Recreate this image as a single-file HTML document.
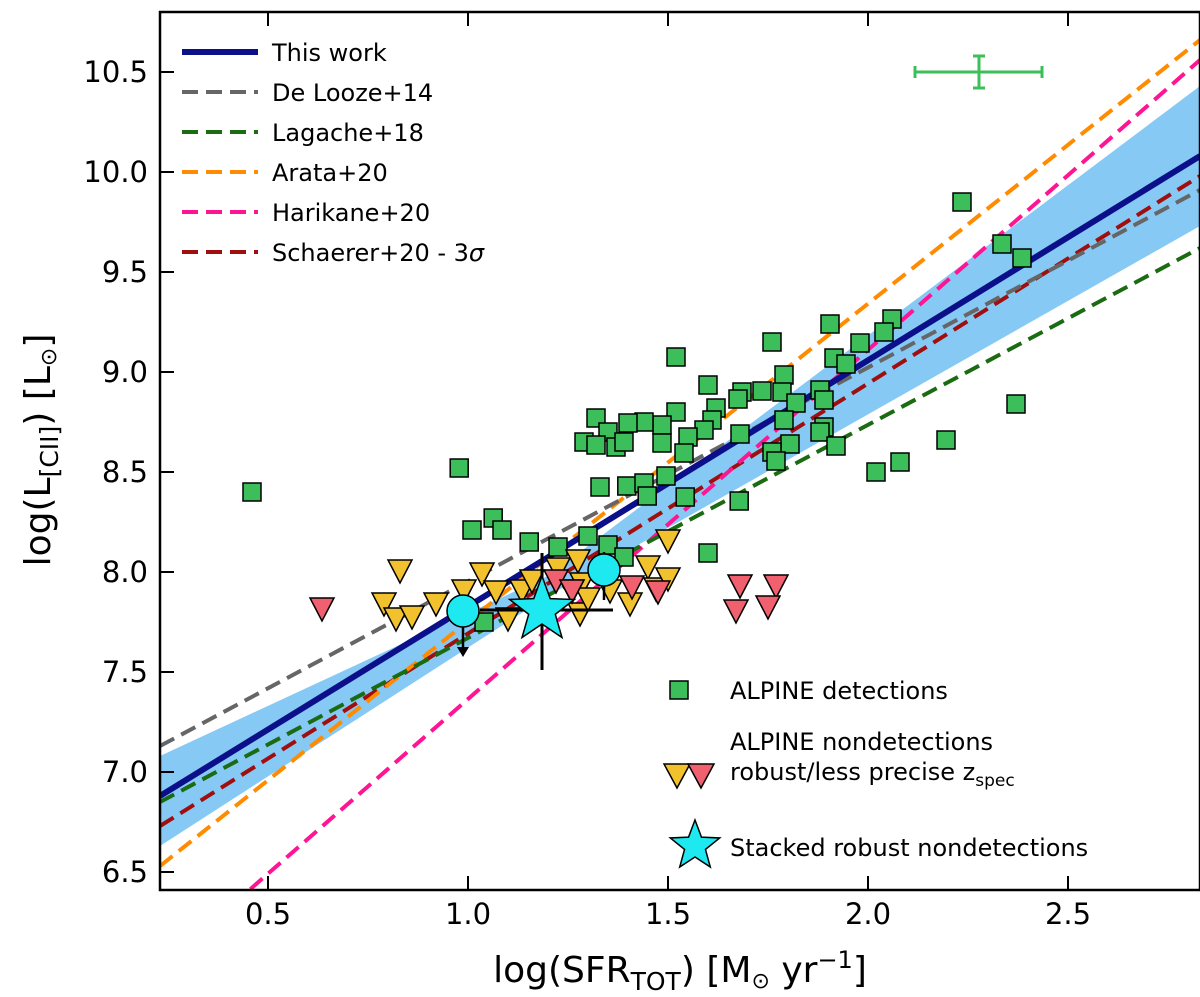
<!DOCTYPE html>
<html><head><meta charset="utf-8"><style>
body{margin:0;background:#fff}
svg{font-family:"DejaVu Sans","Liberation Sans",sans-serif}
</style></head><body>
<svg id="chart" width="1200" height="992" viewBox="0 0 1200 992">
<defs><clipPath id="clip"><rect x="160" y="12" width="1040" height="878"/></clipPath></defs>
<g id="plot" clip-path="url(#clip)"></g>
<g id="axes"></g>
</svg>
<script>
const detX=[0.46,0.978,1.01,1.063,1.085,1.153,1.225,1.30,1.33,1.397,1.44,1.448,1.495,1.543,1.678,1.60,1.52,1.76,1.905,2.06,2.04,1.98,1.915,1.945,1.60,1.79,1.735,1.685,1.675,1.785,1.82,1.88,1.89,1.62,1.61,1.59,1.55,1.54,1.52,1.485,1.485,1.44,1.40,1.32,1.35,1.29,1.32,1.37,1.39,1.68,1.79,1.89,1.88,1.92,1.805,1.76,1.77,2.02,2.08,2.235,2.335,2.385,2.37,2.195,1.35,1.39,1.04];
const detY=[8.4,8.52,8.21,8.27,8.21,8.15,8.125,8.18,8.425,8.43,8.445,8.38,8.48,8.375,8.355,8.095,9.075,9.15,9.24,9.265,9.2,9.145,9.07,9.04,8.935,8.985,8.905,8.9,8.865,8.9,8.845,8.91,8.86,8.82,8.76,8.71,8.675,8.595,8.80,8.735,8.645,8.75,8.745,8.77,8.70,8.65,8.635,8.625,8.65,8.69,8.76,8.725,8.70,8.63,8.64,8.60,8.555,8.5,8.55,9.85,9.64,9.57,8.84,8.66,8.135,8.075,7.75];
const ndX=[0.83,0.79,0.82,0.86,0.92,1.035,0.99,1.07,1.10,1.135,1.16,1.225,1.275,1.285,1.28,1.30,1.405,1.45,1.47,1.50,1.50,1.355,1.26];
const ndY=[8.0,7.835,7.76,7.77,7.835,7.985,7.9,7.895,7.76,7.9,7.95,8.01,8.05,7.935,7.785,7.86,7.835,8.02,7.91,7.96,8.15,7.9,7.9];
const lpX=[0.635,1.22,1.26,1.41,1.475,1.68,1.77,1.67,1.75];
const lpY=[7.81,7.95,7.9,7.92,7.895,7.925,7.925,7.8,7.82];
const stX=[1.185],stY=[7.81];
const circX=[0.9875,1.34],circY=[7.805,8.01];
const lineNames=["This work","De Looze+14","Lagache+18","Arata+20","Harikane+20","Schaerer+20 - 3σ"];
const lineColors=["#0b0f8a","#666","#1a6b12","#ff8c00","#ff1493","#a00e0e"];
const lineY0=[6.88,7.13,6.85,6.53,6.02,6.73]; // at x=0.23
const lineY1=[10.08,9.91,9.62,10.66,10.56,9.98]; // at x=2.83
const xTicks=[0.5,1.0,1.5,2.0,2.5],yTicks=[6.5,7.0,7.5,8.0,8.5,9.0,9.5,10.0,10.5];
const X=v=>68+v*400, Y=v=>72+(10.5-v)*200;
const NS="http://www.w3.org/2000/svg";
function mk(p,t,a){const e=document.createElementNS(NS,t);for(const k in a)e.setAttribute(k,a[k]);p.appendChild(e);return e;}
const plot=document.getElementById('plot'),axes=document.getElementById('axes');
const x0=0.23,x1=2.83;
let band=mk(plot,'polygon',{points:`${X(x0)},${Y(lineY0[0]+0.2)} ${X(1.2)},${Y(7.98)} ${X(x1)},${Y(lineY1[0]+0.35)} ${X(x1)},${Y(lineY1[0]-0.35)} ${X(1.2)},${Y(7.88)} ${X(x0)},${Y(lineY0[0]-0.25)}`,fill:'#86c9f5'});


for(let i=5;i>=0;i--){
 const l=mk(plot,'line',{x1:X(x0),y1:Y(lineY0[i]),x2:X(x1),y2:Y(lineY1[i]),stroke:lineColors[i],'stroke-width':i==0?6:4,'stroke-dasharray':i==0?'none':'16 8'});
 
 
}
function sq(x,y,g){return mk(g,'rect',{x:X(x)-9,y:Y(y)-9,width:18,height:18,fill:'#3cbf5a',stroke:'#000','stroke-width':1.5});}
function tri(x,y,c,g){const px=X(x),py=Y(y);return mk(g,'polygon',{points:`${px-12},${py-12} ${px+12},${py-12} ${px},${py+11}`,fill:c,stroke:'#000','stroke-width':1.5});}
function star(cx,cy,R,r,g){let p=[];for(let i=0;i<10;i++){const a=-Math.PI/2+i*Math.PI/5,rr=i%2?r:R;p.push((cx+rr*Math.cos(a))+','+(cy+rr*Math.sin(a)));}return mk(g,'polygon',{points:p.join(' '),fill:'#1ee8f0',stroke:'#000','stroke-width':1.5});}
detX.forEach((x,i)=>{const e=sq(x,detY[i],plot);
 
 });
ndX.forEach((x,i)=>{const e=tri(x,ndY[i],'#f2c12e',plot);
 
 });
lpX.forEach((x,i)=>{const e=tri(x,lpY[i],'#f0606e',plot);
 
 });
circX.forEach((x,i)=>{
 if(i==0){mk(plot,'line',{x1:X(x),y1:Y(circY[i]),x2:X(x),y2:Y(circY[i])+40,stroke:'#000','stroke-width':2.5});mk(plot,'polygon',{points:`${X(x)-6},${Y(circY[i])+36} ${X(x)+6},${Y(circY[i])+36} ${X(x)},${Y(circY[i])+46}`,fill:'#000'});}
 else{mk(plot,'line',{x1:X(x),y1:Y(circY[i])-18,x2:X(x),y2:Y(circY[i])+30,stroke:'#000','stroke-width':2.5});}
 const c=mk(plot,'circle',{cx:X(x),cy:Y(circY[i]),r:16,fill:'#1ee8f0',stroke:'#000','stroke-width':1.5});
 
 
});
stX.forEach((x,i)=>{
 mk(plot,'line',{x1:X(x)-62,y1:Y(stY[i]),x2:X(x)+71,y2:Y(stY[i]),stroke:'#000','stroke-width':3});
 mk(plot,'line',{x1:X(x),y1:Y(stY[i])-57,x2:X(x),y2:Y(stY[i])+60,stroke:'#000','stroke-width':3});
 const s=star(X(x),Y(stY[i]),34,14,plot);
 
 
});
mk(plot,'line',{x1:915,y1:72,x2:1042,y2:72,stroke:'#3cbf5a','stroke-width':3});
mk(plot,'line',{x1:979,y1:56,x2:979,y2:88,stroke:'#3cbf5a','stroke-width':3});
[915,1042].forEach(x=>mk(plot,'line',{x1:x,y1:66,x2:x,y2:78,stroke:'#3cbf5a','stroke-width':3}));
[56,88].forEach(y=>mk(plot,'line',{x1:973,y1:y,x2:985,y2:y,stroke:'#3cbf5a','stroke-width':3}));
const fr=mk(axes,'rect',{x:160,y:12,width:1040,height:878,fill:'none',stroke:'#000','stroke-width':2.5});


xTicks.forEach(t=>{mk(axes,'line',{x1:X(t),y1:890,x2:X(t),y2:876,stroke:'#000','stroke-width':2});mk(axes,'line',{x1:X(t),y1:12,x2:X(t),y2:26,stroke:'#000','stroke-width':2});
 const e=mk(axes,'text',{x:X(t),y:924,'font-size':29,'text-anchor':'middle'});e.textContent=t.toFixed(1);
 
 });
yTicks.forEach(t=>{mk(axes,'line',{x1:160,y1:Y(t),x2:174,y2:Y(t),stroke:'#000','stroke-width':2});
 const e=mk(axes,'text',{x:148,y:Y(t)+10,'font-size':29,'text-anchor':'end'});e.textContent=t.toFixed(1);
 
 });
lineNames.forEach((n,i)=>{const y=52+i*40;
 mk(axes,'line',{x1:182,y1:y,x2:258,y2:y,stroke:lineColors[i],'stroke-width':i==0?6:4,'stroke-dasharray':i==0?'none':'16 8'});
 const t=mk(axes,'text',{x:272,y:y+9,'font-size':24});
 if(i==5){t.innerHTML='Schaerer+20 - 3<tspan font-style="italic">σ</tspan>';}else t.textContent=n;
 
 });
const g2=mk(axes,'g',{});


mk(g2,'rect',{x:670,y:681,width:18,height:18,fill:'#3cbf5a',stroke:'#000','stroke-width':1.5});
mk(g2,'text',{x:730,y:699,'font-size':24}).textContent='ALPINE detections';
mk(g2,'polygon',{points:'664,764 690,764 677,788',fill:'#f2c12e',stroke:'#000','stroke-width':1.5});
mk(g2,'polygon',{points:'678,764 704,764 691,788',fill:'#f0606e',stroke:'#000','stroke-width':1.5,transform:'translate(10,0)'});
mk(g2,'text',{x:730,y:750,'font-size':24}).textContent='ALPINE nondetections';
const t3=mk(g2,'text',{x:730,y:780,'font-size':24});t3.innerHTML='robust/less precise z<tspan font-size="17" dy="6">spec</tspan>';
star(695,846,26,11,g2);
mk(g2,'text',{x:730,y:856,'font-size':24}).textContent='Stacked robust nondetections';
const xt=mk(axes,'text',{x:680,y:982,'font-size':36,'text-anchor':'middle'});
xt.innerHTML='log(SFR<tspan font-size="25" dy="8">TOT</tspan><tspan dy="-8">) [M</tspan><tspan font-size="22" dy="6">⊙</tspan><tspan dy="-6"> yr</tspan><tspan font-size="24" dy="-14">−1</tspan><tspan dy="14">]</tspan>';


const yt=mk(axes,'text',{x:50,y:450,'font-size':36,'text-anchor':'middle',transform:'rotate(-90 50 450)'});
yt.innerHTML='log(L<tspan font-size="25" dy="8">[CII]</tspan><tspan dy="-8">) [L</tspan><tspan font-size="22" dy="6">⊙</tspan><tspan dy="-6">]</tspan>';


</script>
</body></html>
